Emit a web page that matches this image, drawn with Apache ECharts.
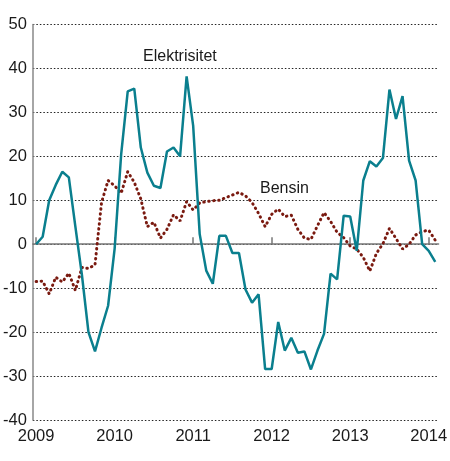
<!DOCTYPE html>
<html>
<head>
<meta charset="utf-8">
<script src="https://cdn.jsdelivr.net/npm/echarts@6/dist/echarts.min.js"></script>
<style>
  html, body { margin: 0; padding: 0; background: #fff; }
  #chart { width: 450px; height: 461px; }
</style>
</head>
<body>
<div id="chart"></div>
<script>
// Månedlige tall, jan 2009 - feb 2014
const years = ['2009', '2010', '2011', '2012', '2013', '2014'];
const monthCount = 62;

const elektrisitet = [
  0, 1.7, 10, 13.5, 16.5, 15.2, 4, -7, -20, -24.4, -19, -14,
  -1, 20.5, 34.8, 35.4, 22, 16.3, 13.3, 12.8, 21.1, 22, 20, 38.2,
  27, 2.3, -6, -9, 1.9, 1.9, -2, -2, -10.3, -13.3, -11.4, -28.4,
  -28.4, -17.7, -24.2, -21.3, -24.7, -24.4, -28.5, -24.2, -20.4, -6.7, -8, 6.5,
  6.3, -1.5, 14.5, 18.9, 17.7, 19.6, 35.2, 28.5, 33.7, 19, 14.5, 0,
  -1.5, -4
];

const bensin = [
  -8.5, -8.4, -11.3, -7.5, -8.6, -6.6, -10.5, -5.3, -5.5, -4.7, 9.5, 14.5,
  13.3, 11.6, 16.5, 14.1, 10.3, 4, 5, 1.4, 3.4, 6.7, 5.3, 9.7,
  7.8, 9.4, 9.7, 9.9, 10, 10.6, 11.2, 11.8, 11, 9.5, 7, 4,
  6.8, 8, 6.3, 6.6, 3.4, 1.4, 1.1, 4.2, 7.2, 5.2, 2.7, 1.5,
  -0.4, -1.1, -3, -6.1, -2.1, 0.1, 3.6, 1.3, -1.1, 0, 2.1, 2.9,
  3.2, 0.9
];

// kategorier: én per måned, årstall på januar
const months = [];
for (let i = 0; i < monthCount; i++) {
  months.push(i % 12 === 0 ? years[i / 12] : '');
}

const font = 'Liberation Sans, Arial, sans-serif';
const isJan = (idx) => idx % 12 === 0;

const chart = echarts.init(document.getElementById('chart'));

chart.setOption({
  animation: false,
  grid: { left: 31, right: 8, top: 24.5, bottom: 41 },
  xAxis: [
    {
      type: 'category',
      data: months,
      boundaryGap: true,
      position: 'bottom',
      axisLine: { onZero: true, lineStyle: { color: '#777', width: 1.5 } },
      axisTick: { show: true, inside: true, length: 7, alignWithLabel: true, interval: isJan, lineStyle: { color: '#777', width: 1.5 } },
      axisLabel: { show: false },
      splitLine: { show: false }
    },
    {
      type: 'category',
      data: months,
      boundaryGap: true,
      position: 'bottom',
      axisLine: { show: false, onZero: false },
      axisTick: { show: false },
      axisLabel: { interval: isJan, margin: 8, fontSize: 16.5, color: '#1a1a1a', fontFamily: font },
      splitLine: { show: false }
    }
  ],
  yAxis: {
    type: 'value',
    min: -40,
    max: 50,
    interval: 10,
    axisLine: { show: true, lineStyle: { color: '#888', width: 1.5 } },
    axisTick: { show: false },
    axisLabel: { margin: 6, fontSize: 16.5, color: '#1a1a1a', fontFamily: font },
    splitLine: { lineStyle: { color: '#222', width: 1.2, type: [1.5, 2] } }
  },
  graphic: [
    { type: 'text', left: 143, top: 49, style: { text: 'Elektrisitet', font: '16px ' + font, fill: '#1a1a1a' } },
    { type: 'text', left: 260, top: 181, style: { text: 'Bensin', font: '16px ' + font, fill: '#1a1a1a' } }
  ],
  series: [
    {
      name: 'Bensin',
      type: 'line',
      data: bensin,
      symbol: 'none',
      lineStyle: { color: '#7a1a10', width: 3, type: [0.5, 4.5], cap: 'round' },
      z: 2
    },
    {
      name: 'Elektrisitet',
      type: 'line',
      data: elektrisitet,
      symbol: 'none',
      lineStyle: { color: '#0a7f8e', width: 2.5 },
      z: 3
    }
  ]
});
</script>
</body>
</html>
